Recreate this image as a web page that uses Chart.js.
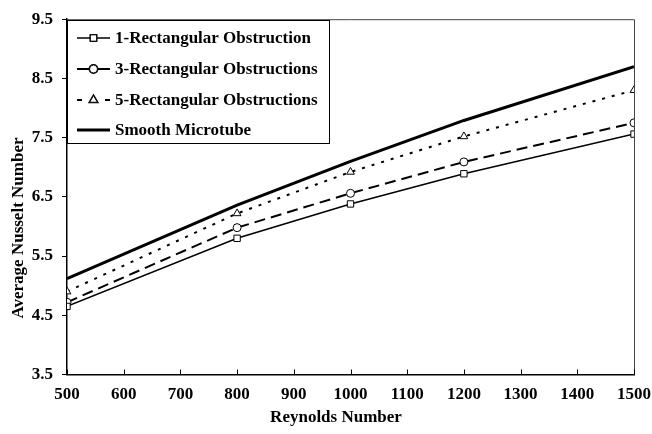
<!DOCTYPE html>
<html>
<head>
<meta charset="utf-8">
<script src="https://cdn.jsdelivr.net/npm/chart.js@4.4.1/dist/chart.umd.min.js"></script>
<style>
  html, body { margin: 0; padding: 0; background: #fff; }
  #wrap { width: 652px; height: 434px; position: relative; }
</style>
</head>
<body>
<div id="wrap"><canvas id="c"></canvas></div>
<script>
// Reynolds numbers along the x axis
const reynolds = [500, 800, 1000, 1200, 1500];

// Average Nusselt number for each configuration
const oneObstruction    = [4.65, 5.80, 6.38, 6.89, 7.56];
const threeObstructions = [4.72, 5.98, 6.56, 7.09, 7.75];
const fiveObstructions  = [4.90, 6.22, 6.92, 7.52, 8.30];
const smoothMicrotube   = [5.12, 6.36, 7.10, 7.79, 8.70];

const seriesNames = [
  '1-Rectangular Obstruction',
  '3-Rectangular Obstructions',
  '5-Rectangular Obstructions',
  'Smooth Microtube'
];

const xTicks = [500, 600, 700, 800, 900, 1000, 1100, 1200, 1300, 1400, 1500];
const yTicks = [3.5, 4.5, 5.5, 6.5, 7.5, 8.5, 9.5];

const xTitle = 'Reynolds Number';
const yTitle = 'Average Nusselt Number';

const FONT = '"Liberation Serif", "Times New Roman", serif';

function pts(vals) {
  return reynolds.map((x, i) => ({ x: x, y: vals[i] }));
}

// Frame, inward x ticks, axis titles and the boxed legend
const decorations = {
  id: 'decorations',
  afterDraw(chart) {
    const ctx = chart.ctx;
    const a = chart.chartArea;
    const xs = chart.scales.x;
    ctx.save();
    // top and right frame lines
    ctx.strokeStyle = '#444';
    ctx.lineWidth = 1;
    ctx.beginPath();
    ctx.moveTo(a.left, a.top + 0.5);
    ctx.lineTo(a.right + 0.5, a.top + 0.5);
    ctx.lineTo(a.right + 0.5, a.bottom);
    ctx.stroke();
    // x ticks pointing into the plot
    ctx.strokeStyle = '#000';
    ctx.lineWidth = 1;
    xTicks.forEach(v => {
      const px = Math.round(xs.getPixelForValue(v)) + 0.5;
      ctx.beginPath();
      ctx.moveTo(px, a.bottom);
      ctx.lineTo(px, a.bottom - 5);
      ctx.stroke();
    });

    // axis titles
    ctx.fillStyle = '#000';
    ctx.font = 'bold 17px ' + FONT;
    ctx.textAlign = 'center';
    ctx.textBaseline = 'middle';
    ctx.fillText(xTitle, 336, 418);
    ctx.save();
    ctx.translate(19, 228);
    ctx.rotate(-Math.PI / 2);
    ctx.fillText(yTitle, 0, 0);
    ctx.restore();

    // legend box
    const bx = a.left, by = 20, bw = 262, bh = 123;
    ctx.fillStyle = '#fff';
    ctx.fillRect(bx, by, bw, bh);
    ctx.strokeStyle = '#000';
    ctx.lineWidth = 1;
    ctx.strokeRect(bx + 0.5, by + 0.5, bw, bh);

    const rows = [38, 69, 100, 130];
    ctx.font = 'bold 17px ' + FONT;
    ctx.textBaseline = 'middle';
    ctx.textAlign = 'left';
    chart.data.datasets.forEach((ds, i) => {
      const y = rows[i];
      const x0 = bx + 10, x1 = bx + 43, xm = (x0 + x1) / 2;
      ctx.strokeStyle = '#000';
      ctx.lineWidth = ds.borderWidth;
      ctx.beginPath();
      if (i === 2) {
        ctx.moveTo(x0, y); ctx.lineTo(x0 + 5, y);
        ctx.moveTo(x1 - 5, y); ctx.lineTo(x1, y);
      } else {
        ctx.moveTo(x0, y); ctx.lineTo(x1, y);
      }
      ctx.stroke();
      if (ds.pointStyle && ds.pointRadius > 0) {
        Chart.helpers.drawPoint(ctx, {
          pointStyle: ds.pointStyle,
          radius: ds.pointRadius,
          borderWidth: 1,
          rotation: 0
        }, xm, y);
        ctx.fillStyle = '#fff';
        ctx.strokeStyle = '#000';
        ctx.lineWidth = 1;
        ctx.fill();
        ctx.stroke();
      }
      ctx.fillStyle = '#000';
      ctx.fillText(ds.label, bx + 48, y + 1);
    });
    ctx.restore();
  }
};

new Chart(document.getElementById('c'), {
  type: 'line',
  data: {
    datasets: [
      {
        label: seriesNames[0], data: pts(oneObstruction),
        borderColor: '#000', borderWidth: 1.5, backgroundColor: '#fff',
        pointStyle: 'rect', pointRadius: 4.5, pointBorderWidth: 1,
        pointBackgroundColor: '#fff', pointBorderColor: '#000'
      },
      {
        label: seriesNames[1], data: pts(threeObstructions),
        borderColor: '#000', borderWidth: 2, borderDash: [11, 6], backgroundColor: '#fff',
        pointStyle: 'circle', pointRadius: 4, pointBorderWidth: 1,
        pointBackgroundColor: '#fff', pointBorderColor: '#000'
      },
      {
        label: seriesNames[2], data: pts(fiveObstructions),
        borderColor: '#000', borderWidth: 2, borderDash: [3, 7], backgroundColor: '#fff',
        pointStyle: 'triangle', pointRadius: 4.5, pointBorderWidth: 1,
        pointBackgroundColor: '#fff', pointBorderColor: '#000'
      },
      {
        label: seriesNames[3], data: pts(smoothMicrotube),
        borderColor: '#000', borderWidth: 3, backgroundColor: '#000',
        pointStyle: false, pointRadius: 0
      }
    ]
  },
  options: {
    responsive: true,
    maintainAspectRatio: false,
    animation: false,
    devicePixelRatio: 1,
    layout: { padding: { left: 0, right: 18, top: 18, bottom: 0 } },
    plugins: {
      legend: { display: false },
      tooltip: { enabled: false }
    },
    elements: { line: { tension: 0 }, point: { hitRadius: 0 } },
    scales: {
      x: {
        type: 'linear', min: 500, max: 1500,
        afterBuildTicks: s => { s.ticks = xTicks.map(v => ({ value: v })); },
        afterFit: s => { s.height = 59.5; s.paddingLeft = 0; s.paddingRight = 0; },
        grid: { display: true, drawOnChartArea: false, drawTicks: false },
        border: { display: true, color: '#000', width: 1.5 },
        ticks: {
          color: '#000', padding: 10, autoSkip: false, maxRotation: 0,
          callback: v => String(v),
          font: { family: FONT, size: 17, weight: 'bold' }
        },
        title: { display: false }
      },
      y: {
        type: 'linear', min: 3.5, max: 9.5,
        afterBuildTicks: s => { s.ticks = yTicks.map(v => ({ value: v })); },
        afterFit: s => { s.width = 67; },
        grid: { display: true, drawOnChartArea: false, drawTicks: true, tickLength: 5, color: '#000' },
        border: { display: true, color: '#000', width: 1.5 },
        ticks: {
          color: '#000', padding: 9,
          callback: v => v.toFixed(1),
          font: { family: FONT, size: 17, weight: 'bold' }
        },
        title: { display: false }
      }
    }
  },
  plugins: [decorations]
});
</script>
</body>
</html>
